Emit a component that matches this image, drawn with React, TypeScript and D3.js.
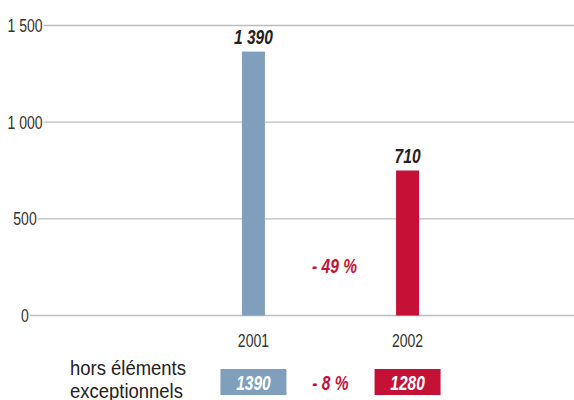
import React, { useEffect, useRef } from "react";
import * as d3 from "d3";

// values
const years = ["2001", "2002"];
const barValues = [1365, 750];
const barLabels = ["1 390", "710"];
const changeMain = "- 49 %";

const yTicks = [0, 500, 1000, 1500];
const yTickLabels = ["0", "500", "1 000", "1 500"];

const exclLabel = ["hors éléments", "exceptionnels"];
const exclValues = ["1390", "1280"];
const changeExcl = "- 8 %";

const colors = ["#7f9fbd", "#c51136"];
const FONT = "'Liberation Sans', Arial, sans-serif";
const NARROW = 0.78; // squeeze, the original uses a condensed face
const NARROW_BOLD = 0.74;

type Sel = d3.Selection<any, unknown, null, undefined>;

// text squeezed horizontally around its anchor point
function addText(parent: Sel, x: number, y: number, str: string, opts: any = {}) {
	const bold = !!opts.bold;
	const sx = opts.sx || (bold ? NARROW_BOLD : NARROW);
	const t = parent.append("text")
		.attr("transform", `translate(${x},${y}) scale(${sx},1)`)
		.attr("text-anchor", opts.anchor || "middle")
		.attr("font-family", FONT)
		.attr("font-size", opts.size || 18)
		.attr("font-weight", bold ? "bold" : "normal")
		.attr("font-style", bold ? "italic" : "normal")
		.attr("fill", opts.fill || "#333")
		.text(str);
	return t;
}

export default function App() {
	const ref = useRef<SVGSVGElement>(null);

	useEffect(() => {
		const svg = d3.select(ref.current) as any as Sel;
		svg.selectAll("*").remove();

		const width = 574;
		const x = d3.scalePoint<string>().domain(years).range([87, width]).padding(1.08);
		const y = d3.scaleLinear().domain([0, 1500]).range([315.5, 25.5]);
		const barW = 23;

		// y axis labels + gridlines starting right after each label
		const ticks = svg.append("g");
		yTicks.forEach((t, i) => {
			const txt = addText(ticks, 25, y(t) + 6.5, yTickLabels[i], { size: 18 });
			const w = (txt.node() as SVGTextElement).getComputedTextLength() * NARROW;
			ticks.append("line")
				.attr("x1", 25 + w / 2 + 1)
				.attr("x2", width)
				.attr("y1", y(t))
				.attr("y2", y(t))
				.attr("stroke", "#bdbdbd")
				.attr("stroke-width", 1.3);
		});

		// bars
		svg.append("g").selectAll("rect")
			.data(barValues)
			.join("rect")
			.attr("x", (d, i) => (x(years[i]) as number) - barW / 2)
			.attr("y", d => y(d))
			.attr("width", barW)
			.attr("height", d => y(0) - y(d))
			.attr("fill", (d, i) => colors[i]);

		// value labels above bars
		const vals = svg.append("g");
		barValues.forEach((d, i) => {
			addText(vals, x(years[i]) as number, y(d) - 8, barLabels[i], { size: 21, bold: true, fill: "#222" });
		});

		// change between years
		const mid = ((x(years[0]) as number) + (x(years[1]) as number)) / 2;
		addText(svg, mid + 4, 273, changeMain, { size: 21, bold: true, fill: colors[1] });

		// category labels
		years.forEach(d => addText(svg, x(d) as number, 347, d, { size: 18 }));

		// hors elements exceptionnels row
		exclLabel.forEach((s, i) => {
			addText(svg, 70, 375 + i * 23, s, { size: 21, anchor: "start", fill: "#222", sx: 0.88 });
		});

		const boxW = 66, boxTop = 369, boxH = 26;
		const boxes = svg.append("g");
		exclValues.forEach((v, i) => {
			const cx = x(years[i]) as number;
			boxes.append("rect")
				.attr("x", cx - boxW / 2)
				.attr("y", boxTop)
				.attr("width", boxW)
				.attr("height", boxH)
				.attr("fill", colors[i]);
			addText(boxes, cx, boxTop + 21, v, { size: 21, bold: true, fill: "#fff" });
		});

		addText(svg, mid, 390, changeExcl, { size: 21, bold: true, fill: colors[1] });
	}, []);

	return (
		<svg
			ref={ref}
			width={574}
			height={400}
			style={{ position: "absolute", left: 0, top: 0, background: "#fff" }}
		/>
	);
}
